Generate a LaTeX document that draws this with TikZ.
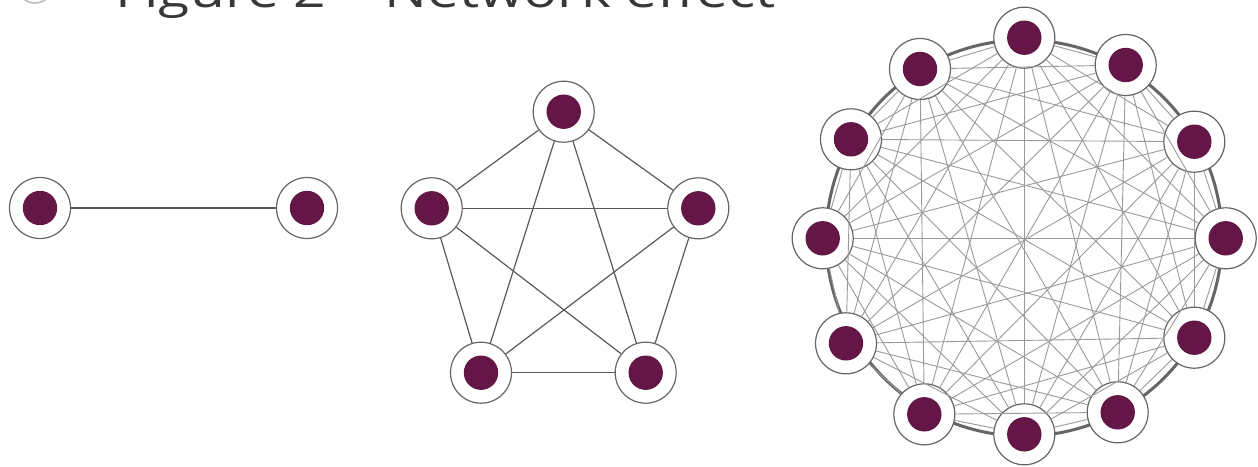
\documentclass[tikz,border=0pt]{standalone}
\usepackage{fontspec}
\setmainfont{Open Sans}
\usepackage{graphicx}
\definecolor{plum}{HTML}{641646}
\definecolor{rimgray}{HTML}{666666}
\definecolor{edgedark}{HTML}{5A5A5A}
\definecolor{edgelight}{HTML}{9A9A9A}
\begin{document}
\begin{tikzpicture}[x=1pt,y=-1pt,
  member/.style={circle,draw=rimgray,line width=1.2pt,fill=white,minimum size=61pt,inner sep=0pt,
    path picture={\fill[plum] (path picture bounding box.center) circle[radius=17.2pt];}},
  linkdark/.style={draw=edgedark,line width=1.2pt},
  linklight/.style={draw=edgelight,line width=0.9pt},
  ring/.style={draw=rimgray,line width=3pt}]
\useasboundingbox (0,0) rectangle (1258,466);
\fill[white] (0,0) rectangle (1258,466);
% title (cut off at top)
\draw[gray!55,line width=1.5pt] (35,-15) circle[radius=18];
\node[anchor=base west,inner sep=0pt,text=black!78] (title) at (115,7.5)
  {\resizebox{660pt}{\height}{\fontsize{46}{46}\selectfont Figure 2 -- Network effect}};
% pair
\node[member] (a1) at (40,208) {};
\node[member] (a2) at (307,208) {};
\draw[linkdark] (a1) -- (a2);
% pentagon
\node[member] (b1) at (563.7,111.7) {};
\node[member] (b2) at (698.3,208.3) {};
\node[member] (b3) at (645.7,372.7) {};
\node[member] (b4) at (481,372.7) {};
\node[member] (b5) at (431.7,208.3) {};
\foreach \i in {1,...,5}{\foreach \j in {1,...,5}{\ifnum\i<\j \draw[linkdark] (b\i) -- (b\j);\fi}}
% twelve
\coordinate (ctr) at (1024,238);
\draw[ring] (ctr) circle[radius=198];
\node[member] (e1) at (1024.3,37.7) {};
\node[member] (e2) at (1125.7,65) {};
\node[member] (e3) at (1194.3,141.7) {};
\node[member] (e4) at (1225.7,238.3) {};
\node[member] (e5) at (1194.3,337.7) {};
\node[member] (e6) at (1117.7,412.3) {};
\node[member] (e7) at (1024.3,434.3) {};
\node[member] (e8) at (924.3,414.3) {};
\node[member] (e9) at (846,343.3) {};
\node[member] (e10) at (822.7,238.3) {};
\node[member] (e11) at (851,139.3) {};
\node[member] (e12) at (920,69) {};
\foreach \i in {1,...,12}{\foreach \j in {1,...,12}{\ifnum\i<\j \draw[linklight] (e\i) -- (e\j);\fi}}
\end{tikzpicture}
\end{document}
